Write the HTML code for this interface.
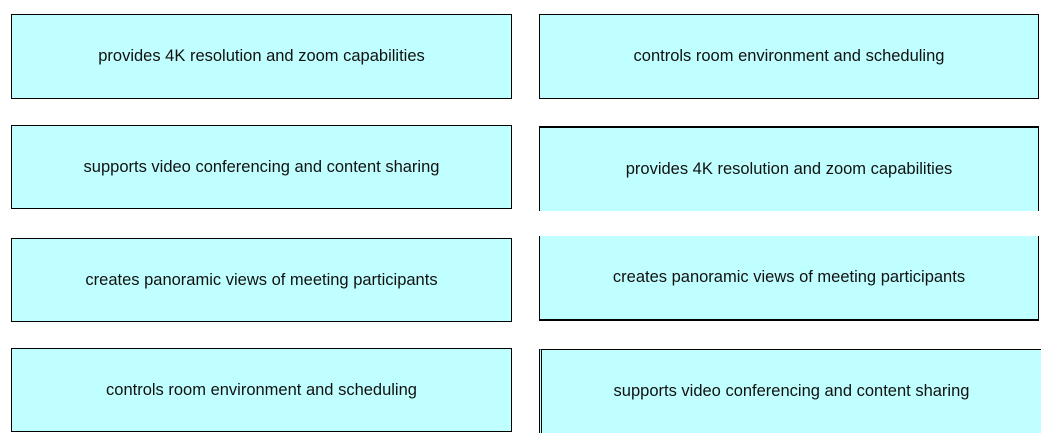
<!DOCTYPE html>
<html><head><style>
body{margin:0;width:1057px;height:447px;background:#fff;position:relative;overflow:hidden;font-family:"Liberation Sans",sans-serif}
.b{position:absolute;background:#c0ffff;box-sizing:border-box;display:flex;align-items:center;justify-content:center;font-size:16.5px;color:#111}
</style></head><body>
<div class="b" style="left:11px;top:14px;width:501px;height:85px;border:1px solid #000">provides 4K resolution and zoom capabilities</div>
<div class="b" style="left:11px;top:125px;width:501px;height:84px;border:1px solid #000">supports video conferencing and content sharing</div>
<div class="b" style="left:11px;top:238px;width:501px;height:84px;border:1px solid #000">creates panoramic views of meeting participants</div>
<div class="b" style="left:11px;top:348px;width:501px;height:84px;border:1px solid #000">controls room environment and scheduling</div>
<div class="b" style="left:539px;top:14px;width:500px;height:85px;border:1px solid #000">controls room environment and scheduling</div>
<div class="b" style="left:539px;top:126px;width:500px;height:85px;border-top:2px solid #000;border-left:1px solid #000;border-right:1px solid #000">provides 4K resolution and zoom capabilities</div>
<div class="b" style="left:539px;top:236px;width:500px;height:85px;border-bottom:2px solid #000;border-left:1px solid #000;border-right:1px solid #000">creates panoramic views of meeting participants</div>
<div class="b" style="left:539px;top:349px;width:502px;height:84px;border-top:1px solid #000;border-left:3px double #000">supports video conferencing and content sharing</div>
</body></html>
